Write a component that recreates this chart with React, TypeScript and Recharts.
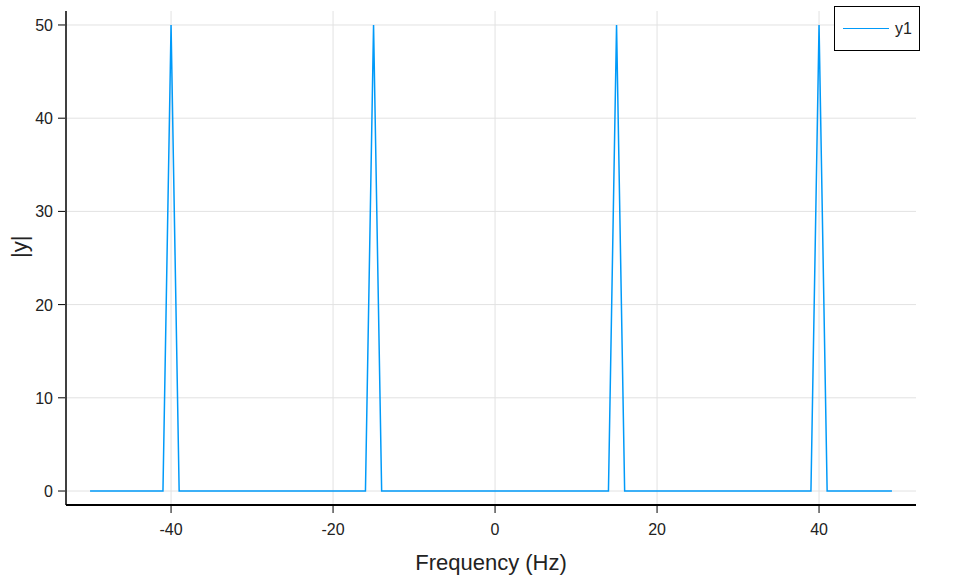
import { LineChart, Line, XAxis, YAxis, CartesianGrid } from "recharts";

// frequency bins where the trace changes; everything between is flat at 0
const freqs = [-50, -41, -40, -39, -16, -15, -14, 14, 15, 16, 39, 40, 41, 49];
const mags = [0, 0, 50, 0, 0, 50, 0, 0, 50, 0, 0, 50, 0, 0];

const xTicks = [-40, -20, 0, 20, 40];
const yTicks = [0, 10, 20, 30, 40, 50];

const data = freqs.map((f, i) => ({ f, y1: mags[i] }));

const FONT = "'Liberation Sans', Arial, sans-serif";
const BLUE = "#009af9";

function XTick(props: any) {
  const { x, y, payload } = props;
  return (
    <g>
      <line x1={x} x2={x} y1={y} y2={y - 7} stroke="#000" strokeWidth={1} />
      <text x={x} y={y + 22} textAnchor="middle" fontSize={16} fontFamily={FONT} fill="#222">
        {payload.value}
      </text>
    </g>
  );
}

function YTick(props: any) {
  const { x, y, payload } = props;
  return (
    <g>
      <line x1={x} x2={x + 7} y1={y} y2={y} stroke="#000" strokeWidth={1} />
      <text x={x - 5} y={y + 6} textAnchor="end" fontSize={16} fontFamily={FONT} fill="#222">
        {payload.value}
      </text>
    </g>
  );
}

function LegendBox() {
  return (
    <div
      style={{
        position: "absolute",
        left: 834,
        top: 6,
        width: 86,
        height: 45,
        border: "1.5px solid #000",
        background: "#fff",
        display: "flex",
        alignItems: "center",
        boxSizing: "border-box",
        fontFamily: FONT,
        fontSize: 16,
        color: "#222",
      }}
    >
      <div style={{ width: 46, height: 0, borderTop: `1.5px solid ${BLUE}`, marginLeft: 8, marginRight: 6 }} />
      <span>y1</span>
    </div>
  );
}

export default function App() {
  return (
    <div style={{ position: "absolute", left: 0, top: 0, width: 967, height: 579, background: "#fff" }}>
      <LineChart width={967} height={579} data={data} margin={{ top: 11, right: 51, bottom: 0, left: 0 }}>
        <CartesianGrid stroke="#e2e2e2" strokeWidth={1} fill="none" syncWithTicks />
        <XAxis
          dataKey="f"
          type="number"
          domain={[-52.97, 51.97]}
          ticks={xTicks}
          allowDataOverflow
          height={74}
          axisLine={{ stroke: "#000", strokeWidth: 2 }}
          tickLine={false}
          tick={<XTick />}
          label={{ value: "Frequency (Hz)", position: "insideBottom", offset: 9, fontSize: 22, fontFamily: FONT, fill: "#222" }}
        />
        <YAxis
          type="number"
          domain={[-1.5, 51.5]}
          ticks={yTicks}
          allowDataOverflow
          width={66}
          axisLine={{ stroke: "#000", strokeWidth: 1.5 }}
          tickLine={false}
          tick={<YTick />}
          label={{ value: "|y|", angle: -90, position: "insideLeft", offset: 19, fontSize: 22, fontFamily: FONT, fill: "#222" }}
        />
        <Line
          dataKey="y1"
          name="y1"
          stroke={BLUE}
          strokeWidth={1.5}
          dot={false}
          isAnimationActive={false}
          type="linear"
        />
      </LineChart>
      <LegendBox />
    </div>
  );
}
